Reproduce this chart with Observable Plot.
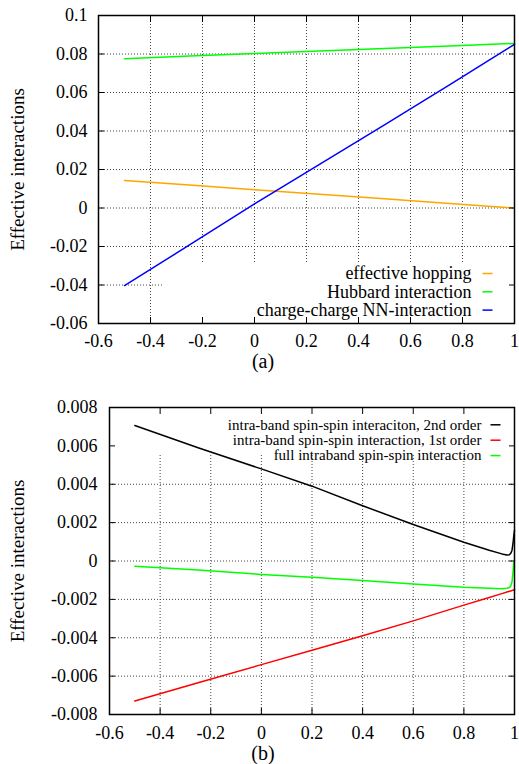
<!DOCTYPE html>
<html>
<head>
<meta charset="utf-8">
<script src="https://cdn.jsdelivr.net/npm/d3@7"></script>
<script src="https://cdn.jsdelivr.net/npm/@observablehq/plot@0.6"></script>
<style>
html,body{margin:0;padding:0;background:#fff;overflow:hidden;}
#wrap{position:relative;width:519px;height:764px;font-family:'Liberation Serif',serif;color:#000;}
#wrap svg{position:absolute;left:0;}
#wrap svg text{font-family:'Liberation Serif',serif;}
.cap{position:absolute;left:203px;width:120px;text-align:center;font-size:20px;line-height:20px;font-family:'Liberation Serif',serif;}
</style>
</head>
<body>
<div id="wrap"></div>
<script>
// ---------- shared x axis ----------
const xTicks = [-0.6, -0.4, -0.2, 0, 0.2, 0.4, 0.6, 0.8, 1];
const xTickLabels = ["-0.6", "-0.4", "-0.2", "0", "0.2", "0.4", "0.6", "0.8", "1"];
const yAxisTitle = "Effective interactions";

// ---------- panel (a) ----------
const yTicksA = [-0.06, -0.04, -0.02, 0, 0.02, 0.04, 0.06, 0.08, 0.1];
const yTickLabelsA = ["-0.06", "-0.04", "-0.02", "0", "0.02", "0.04", "0.06", "0.08", "0.1"];
const xA = [-0.5, -0.25, 0, 0.25, 0.5, 0.75, 1];
const hoppingA = [0.0143, 0.0119, 0.0095, 0.0071, 0.0048, 0.0024, 0.0];
const hubbardA = [0.0775, 0.0789, 0.0802, 0.0815, 0.0829, 0.0842, 0.0855];
const nnA = [-0.0403, -0.0192, 0.0022, 0.0227, 0.0432, 0.0640, 0.0850];
const seriesNamesA = ["effective hopping", "Hubbard interaction", "charge-charge NN-interaction"];
const seriesColorsA = ["#ffa500", "#00ff00", "#0000ff"];
const keyBoxA = {x1: -0.35, x2: 1, y1: -0.06, y2: -0.0288};
const captionA = "(a)";

// ---------- panel (b) ----------
const yTicksB = [-0.008, -0.006, -0.004, -0.002, 0, 0.002, 0.004, 0.006, 0.008];
const yTickLabelsB = ["-0.008", "-0.006", "-0.004", "-0.002", "0", "0.002", "0.004", "0.006", "0.008"];
const xB = [-0.5, -0.25, 0, 0.2, 0.4, 0.6, 0.8, 0.9, 0.95, 0.97, 0.98, 0.985, 0.99, 0.994, 0.997, 1];
const secondOrderB = [0.00706, 0.0059, 0.0048, 0.0039, 0.00288, 0.0019, 0.00098, 0.00056, 0.00037, 0.00031, 0.00033, 0.0004, 0.00055, 0.0009, 0.0013, 0.0016];
const firstOrderB = [-0.0073, -0.00635, -0.0054, -0.00465, -0.0039, -0.00312, -0.0023, -0.0019, -0.0017, -0.00162, -0.00158, -0.00156, -0.00154, -0.00152, -0.00151, -0.0015];
const fullB = [-0.00027, -0.00047, -0.0007, -0.00085, -0.00102, -0.0012, -0.00137, -0.00142, -0.00144, -0.00142, -0.00138, -0.0013, -0.0011, -0.0006, -0.0001, 0.00003];
const seriesNamesB = ["intra-band spin-spin interaciton, 2nd order", "intra-band spin-spin interaction, 1st order", "full intraband spin-spin interaction"];
const seriesColorsB = ["#000000", "#ff0000", "#00ff00"];
const keyBoxB = {x1: -0.6, x2: 1, y1: 0.0055, y2: 0.008};
const captionB = "(b)";

const FONT = "Liberation Serif, serif";

function toRows(xs, ys, name) {
  return xs.map((x, i) => ({x, y: ys[i], name}));
}

function panel(cfg) {
  const fmtX = d => xTickLabels[xTicks.indexOf(d)];
  const fmtY = d => cfg.yLabels[cfg.yTicks.indexOf(d)];
  const gridStyle = {stroke: "#444", strokeOpacity: 1, strokeWidth: 1, strokeDasharray: "1,2"};
  const lineMarks = cfg.series.map((s, i) =>
    Plot.line(toRows(s.x, s.y, cfg.names[i]), {x: "x", y: "y", stroke: cfg.colors[i], strokeWidth: 1.5})
  );
  const legendMarks = [];
  cfg.names.forEach((name, i) => {
    const dy = cfg.legend.dy0 + i * cfg.legend.step;
    legendMarks.push(Plot.text([name], {
      text: d => d, frameAnchor: cfg.legend.anchor, dx: cfg.legend.textDx, dy,
      textAnchor: "end", lineAnchor: "middle", fontSize: cfg.legend.fontSize, fill: "black"
    }));
    legendMarks.push(Plot.vector([name], {
      frameAnchor: cfg.legend.anchor, dx: cfg.legend.lineDx, dy,
      length: 10, rotate: 90, anchor: "start", r: 0,
      stroke: cfg.colors[i], strokeWidth: 1.5, strokeLinecap: "butt"
    }));
  });
  const svg = Plot.plot({
    width: 519,
    height: cfg.height,
    marginTop: cfg.marginTop,
    marginBottom: cfg.marginBottom,
    marginLeft: cfg.marginLeft,
    marginRight: 5,
    style: {fontFamily: FONT, fontSize: "18px", color: "black", background: "white", overflow: "visible"},
    x: {domain: [-0.6, 1]},
    y: {domain: cfg.yDomain},
    marks: [
      Plot.gridX(xTicks, gridStyle),
      Plot.gridY(cfg.yTicks, gridStyle),
      Plot.rect([cfg.keyBox], {x1: "x1", x2: "x2", y1: "y1", y2: "y2", fill: "white"}),
      ...lineMarks,
      Plot.frame({stroke: "black", strokeWidth: 1.5}),
      Plot.axisX(xTicks, {anchor: "bottom", tickSize: 0, tickPadding: cfg.xPad, tickFormat: fmtX, label: null}),
      Plot.axisY(cfg.yTicks, {anchor: "left", tickSize: 0, tickPadding: cfg.yPad, tickFormat: fmtY, label: null}),
      Plot.axisX(xTicks, {anchor: "bottom", tickSize: -6, fill: "none", label: null}),
      Plot.axisX(xTicks, {anchor: "top", tickSize: -6, fill: "none", label: null}),
      Plot.axisY(cfg.yTicks, {anchor: "left", tickSize: -6, fill: "none", label: null}),
      Plot.axisY(cfg.yTicks, {anchor: "right", tickSize: -6, fill: "none", label: null}),
      Plot.text([yAxisTitle], {text: d => d, frameAnchor: "left", dx: 17 - cfg.marginLeft, rotate: -90,
        textAnchor: "middle", lineAnchor: "middle", fontSize: 19, fill: "black"}),
      ...legendMarks
    ]
  });
  svg.setAttribute("font-family", FONT);
  svg.querySelectorAll("text, g").forEach(el => {
    if (el.hasAttribute("font-family")) el.setAttribute("font-family", FONT);
  });
  return svg;
}

const wrap = document.getElementById("wrap");

const svgA = panel({
  height: 348, marginTop: 15, marginBottom: 25, marginLeft: 98,
  yDomain: [-0.06, 0.1], yTicks: yTicksA, yLabels: yTickLabelsA,
  xPad: 11, yPad: 11,
  series: [{x: xA, y: hoppingA}, {x: xA, y: hubbardA}, {x: xA, y: nnA}],
  names: seriesNamesA, colors: seriesColorsA, keyBox: keyBoxA,
  legend: {anchor: "bottom-right", textDx: -43, lineDx: -32, dy0: -50, step: 18.3, fontSize: 18}
});
svgA.style.top = "0px";
wrap.appendChild(svgA);

const capA = document.createElement("div");
capA.className = "cap"; capA.style.top = "351px"; capA.textContent = captionA;
wrap.appendChild(capA);

const svgB = panel({
  height: 364, marginTop: 27, marginBottom: 30, marginLeft: 109,
  yDomain: [-0.008, 0.008], yTicks: yTicksB, yLabels: yTickLabelsB,
  xPad: 12, yPad: 12,
  series: [{x: xB, y: secondOrderB}, {x: xB, y: firstOrderB}, {x: xB, y: fullB}],
  names: seriesNamesB, colors: seriesColorsB, keyBox: keyBoxB,
  legend: {anchor: "top-right", textDx: -33, lineDx: -24, dy0: 17.3, step: 15.4, fontSize: 15}
});
svgB.style.top = "380px";
wrap.appendChild(svgB);

const capB = document.createElement("div");
capB.className = "cap"; capB.style.top = "743px"; capB.textContent = captionB;
wrap.appendChild(capB);
</script>
</body>
</html>
